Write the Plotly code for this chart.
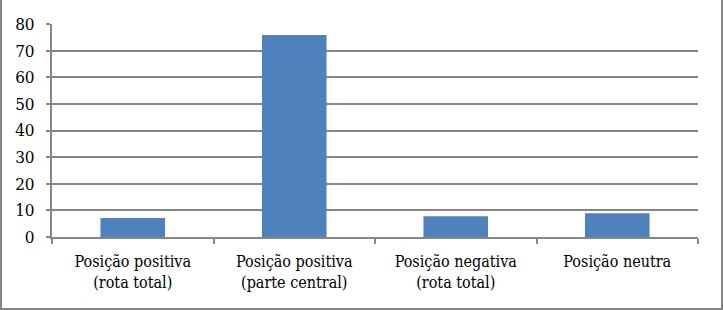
import plotly.graph_objects as go

categories = ["Posição positiva<br>(rota total)", "Posição positiva<br>(parte central)",
              "Posição negativa<br>(rota total)", "Posição neutra"]
values = [7.1, 75.9, 7.8, 8.9]
y_ticks = [0, 10, 20, 30, 40, 50, 60, 70, 80]

W, H = 723, 310
ml, mr, mt, mb = 52, 25, 24, 73
pw, ph = W - ml - mr, H - mt - mb

fig = go.Figure(go.Bar(x=categories, y=values, marker=dict(color="#4F81BD", line=dict(width=0)),
                       hoverinfo="x+y"))

FONT = "DejaVu Serif Condensed, DejaVu Serif"
grid = "#868686"
fig.update_layout(
    width=W, height=H,
    margin=dict(l=ml, r=mr, t=mt, b=mb, autoexpand=False),
    paper_bgcolor="white", plot_bgcolor="white",
    bargap=0.6,
    showlegend=False,
    font=dict(family=FONT, size=16, color="#000000"),
    xaxis=dict(showgrid=False, showline=True, linecolor=grid, linewidth=2,
               ticks="outside", tickson="boundaries", ticklen=5, tickcolor=grid, tickwidth=2,
               ticklabelstandoff=9,
               tickfont=dict(family=FONT, size=16), fixedrange=True),
    yaxis=dict(range=[0, 80], tickvals=y_ticks, showgrid=True, gridcolor=grid, gridwidth=2,
               showline=True, linecolor=grid, linewidth=2, zeroline=False,
               ticks="outside", ticklen=4, tickcolor=grid, tickwidth=2,
               ticklabelstandoff=8, tickfont=dict(family=FONT, size=17), fixedrange=True),
    shapes=[dict(type="rect", xref="paper", yref="paper",
                 x0=(1 - ml) / pw, x1=(W - 1 - ml) / pw,
                 y0=-(H - 1 - mt - ph) / ph, y1=(H - mt) / ph,
                 line=dict(color="#868686", width=2), fillcolor="rgba(0,0,0,0)", layer="below")],
)

fig.write_html("out.html", config={"displayModeBar": False},
               post_script="document.body.style.margin='0';document.body.style.padding='0';")
